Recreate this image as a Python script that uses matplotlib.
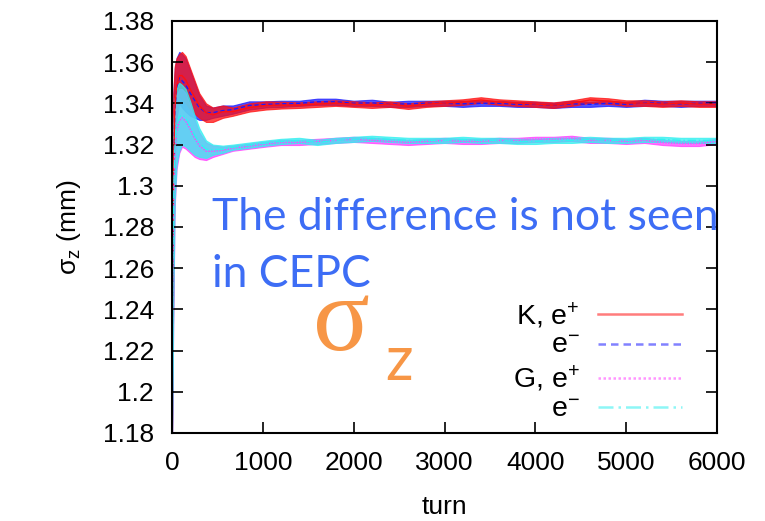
import numpy as np
import matplotlib
matplotlib.use("Agg")
import matplotlib.pyplot as plt

plt.rcParams['font.family'] = ['Liberation Sans', 'DejaVu Sans']
plt.rcParams['mathtext.fontset'] = 'custom'
plt.rcParams['mathtext.rm'] = 'Liberation Sans'
plt.rcParams['mathtext.it'] = 'Liberation Sans'
plt.rcParams['mathtext.sf'] = 'Liberation Sans'

turn = [0, 5, 15, 30, 50, 80, 110, 150, 200, 250, 300, 375, 450, 560, 670, 850, 1030,
        1200, 1400, 1600, 1800, 2000, 2200, 2400, 2600, 2800, 3000, 3200, 3400, 3600,
        3800, 4000, 4200, 4400, 4600, 4800, 5000, 5200, 5400, 5600, 5800, 6000]

# K, e+ (red) : lower / upper edge of the oscillation band
k_pos_lo = [1.180, 1.200, 1.260, 1.315, 1.335, 1.343, 1.342, 1.340, 1.337, 1.335, 1.333, 1.331,
            1.331, 1.333, 1.334, 1.336, 1.337, 1.3375, 1.3378, 1.3383, 1.3388, 1.3383, 1.3378,
            1.3383, 1.3373, 1.3383, 1.3388, 1.3393, 1.3403, 1.3393, 1.3388, 1.3383, 1.3378,
            1.3388, 1.3403, 1.3398, 1.3388, 1.3388, 1.3383, 1.3388, 1.3383, 1.3383]
k_pos_hi = [1.185, 1.300, 1.345, 1.358, 1.362, 1.364, 1.365, 1.363, 1.357, 1.351, 1.345, 1.340,
            1.338, 1.339, 1.338, 1.340, 1.341, 1.3408, 1.3405, 1.3410, 1.3415, 1.3410, 1.3405,
            1.3410, 1.3400, 1.3410, 1.3415, 1.3420, 1.3430, 1.3420, 1.3415, 1.3410, 1.3405,
            1.3415, 1.3430, 1.3425, 1.3415, 1.3415, 1.3410, 1.3415, 1.3410, 1.3410]

# K, e- (blue)
k_ele_lo = [1.180, 1.200, 1.260, 1.313, 1.333, 1.340, 1.338, 1.336, 1.334, 1.333, 1.332, 1.332,
            1.333, 1.334, 1.335, 1.337, 1.338, 1.3383, 1.3388, 1.3393, 1.3393, 1.3388, 1.3388,
            1.3383, 1.3383, 1.3388, 1.3388, 1.3383, 1.3388, 1.3388, 1.3383, 1.3383, 1.3378,
            1.3383, 1.3383, 1.3388, 1.3383, 1.3388, 1.3388, 1.3383, 1.3388, 1.3388]
k_ele_hi = [1.185, 1.300, 1.345, 1.357, 1.362, 1.365, 1.364, 1.362, 1.356, 1.350, 1.344, 1.339,
            1.338, 1.339, 1.339, 1.341, 1.341, 1.3413, 1.3413, 1.3423, 1.3423, 1.3413, 1.3418,
            1.3408, 1.3413, 1.3413, 1.3413, 1.3413, 1.3413, 1.3413, 1.3408, 1.3408, 1.3403,
            1.3413, 1.3408, 1.3413, 1.3408, 1.3418, 1.3413, 1.3413, 1.3413, 1.3413]

# G, e+ (magenta)
g_pos_lo = [1.180, 1.195, 1.240, 1.290, 1.308, 1.316, 1.319, 1.318, 1.316, 1.314, 1.313, 1.3125,
            1.314, 1.3155, 1.317, 1.318, 1.319, 1.3198, 1.3198, 1.3203, 1.3208, 1.3213, 1.3208,
            1.3203, 1.3198, 1.3203, 1.3208, 1.3203, 1.3203, 1.3208, 1.3208, 1.3213, 1.3213,
            1.3218, 1.3208, 1.3208, 1.3203, 1.3208, 1.3198, 1.3193, 1.3193, 1.3203]
g_pos_hi = [1.185, 1.290, 1.325, 1.338, 1.344, 1.347, 1.347, 1.345, 1.339, 1.332, 1.326, 1.321,
            1.3195, 1.319, 1.3195, 1.3205, 1.3215, 1.3223, 1.3223, 1.3228, 1.3233, 1.3238, 1.3233,
            1.3228, 1.3223, 1.3228, 1.3233, 1.3228, 1.3228, 1.3233, 1.3233, 1.3238, 1.3238,
            1.3243, 1.3233, 1.3233, 1.3228, 1.3233, 1.3223, 1.3218, 1.3218, 1.3228]

# G, e- (cyan)
g_ele_lo = [1.180, 1.195, 1.245, 1.292, 1.310, 1.317, 1.320, 1.319, 1.317, 1.315, 1.314, 1.3135,
            1.315, 1.316, 1.3175, 1.3185, 1.3195, 1.3203, 1.3208, 1.3198, 1.3208, 1.3213, 1.3218,
            1.3213, 1.3208, 1.3208, 1.3208, 1.3213, 1.3208, 1.3208, 1.3203, 1.3203, 1.3208,
            1.3208, 1.3213, 1.3208, 1.3208, 1.3213, 1.3213, 1.3208, 1.3208, 1.3208]
g_ele_hi = [1.185, 1.295, 1.330, 1.342, 1.348, 1.350, 1.349, 1.347, 1.341, 1.334, 1.328, 1.322,
            1.320, 1.3195, 1.320, 1.321, 1.322, 1.3228, 1.3233, 1.3223, 1.3233, 1.3238, 1.3243,
            1.3238, 1.3233, 1.3233, 1.3233, 1.3238, 1.3233, 1.3233, 1.3228, 1.3228, 1.3233,
            1.3233, 1.3238, 1.3233, 1.3233, 1.3238, 1.3238, 1.3233, 1.3233, 1.3233]

series_labels = ['K, e$^{+}$', 'e$^{-}$', 'G, e$^{+}$', 'e$^{-}$']

x_ticks = [0, 1000, 2000, 3000, 4000, 5000, 6000]
y_ticks = [1.18, 1.20, 1.22, 1.24, 1.26, 1.28, 1.30, 1.32, 1.34, 1.36, 1.38]
y_tick_labels = ['1.18', '1.2', '1.22', '1.24', '1.26', '1.28', '1.3', '1.32', '1.34', '1.36', '1.38']

fig = plt.figure(figsize=(7.65, 5.21), dpi=100)
ax = fig.add_axes([172/765, 88/521, 545/765, 412/521])

series = [
    (k_ele_lo, k_ele_hi, '#1a1aff', (0, (3, 2)), series_labels[1]),
    (k_pos_lo, k_pos_hi, '#ff1010', '-', series_labels[0]),
    (g_pos_lo, g_pos_hi, '#ff40ff', (0, (1, 1)), series_labels[2]),
    (g_ele_lo, g_ele_hi, '#30f0f0', (0, (6, 2, 1, 2)), series_labels[3]),
]
handles = {}
for lo, hi, col, ls, lab in series:
    ax.fill_between(turn, lo, hi, color=col, alpha=0.75, lw=0.8)
    mid = (np.array(lo) + np.array(hi)) / 2
    ln, = ax.plot(turn, mid, color=col, ls=ls, lw=1.0, label=lab)
    handles[lab + col] = ln

order = [series[1], series[0], series[2], series[3]]
leg = ax.legend([handles[s[4] + s[2]] for s in order], [s[4] for s in order],
                loc='upper right', bbox_to_anchor=(0.936, 0.322), markerfirst=False,
                frameon=False, fontsize=20.5, handlelength=2.95, handletextpad=0.65,
                labelspacing=0.12, borderpad=0, borderaxespad=0)
for l in leg.get_lines():
    l.set_alpha(0.55)
    l.set_linewidth(1.8)

ax.set_xlim(0, 6000)
ax.set_ylim(1.18, 1.38)
ax.set_xticks(x_ticks)
ax.set_yticks(y_ticks)
ax.set_yticklabels(y_tick_labels)
ax.tick_params(direction='in', length=8, width=1.2, top=True, right=True,
               labelsize=19, pad=13)
for sp in ax.spines.values():
    sp.set_linewidth(1.5)

ax.set_xlabel('turn', fontsize=19, labelpad=14)
ax.set_ylabel(r'$\sigma_z$ (mm)', fontsize=19, labelpad=14)

fig.text(212/765, 1 - 230/521, 'The difference is not seen', family=['Lato', 'DejaVu Sans'],
         fontsize=32, color='#3d6df5', va='baseline', ha='left')
fig.text(212/765, 1 - 287/521, 'in CEPC', family=['Lato', 'DejaVu Sans'],
         fontsize=32, color='#3d6df5', va='baseline', ha='left')
fig.text(313/765, 1 - 350/521, 'σ', family=['Liberation Serif', 'DejaVu Serif'],
         fontsize=76, color='#f79646', va='baseline', ha='left')
fig.text(385/765, 1 - 380/521, 'z', family=['Lato', 'DejaVu Sans'],
         fontsize=44, color='#f79646', va='baseline', ha='left')

fig.savefig('out.png', dpi=100)
